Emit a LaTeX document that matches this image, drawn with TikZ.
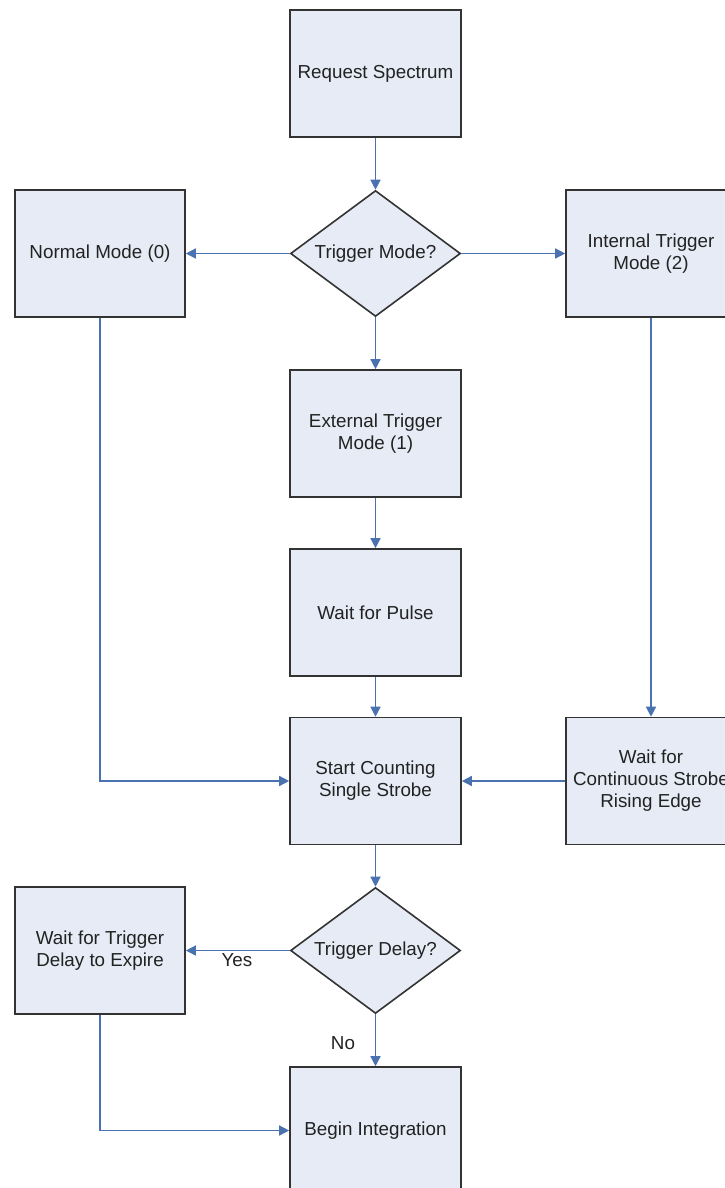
\documentclass[tikz,border=0pt]{standalone}
\usepackage{fontspec}
\setmainfont{Liberation Sans}
\usetikzlibrary{shapes.geometric,arrows.meta}
\definecolor{boxfill}{HTML}{E6EBF5}
\definecolor{boxline}{HTML}{333333}
\definecolor{arrowc}{HTML}{4A72B0}
\definecolor{txt}{HTML}{222222}
\begin{document}
\begin{tikzpicture}[x=1pt,y=-1pt,
  every node/.style={font=\fontsize{18.8pt}{22pt}\selectfont, text=txt},
  procbox/.style={draw=boxline, line width=1.6pt, fill=boxfill, minimum width=171pt, minimum height=127pt, inner sep=0pt, align=center},
  decision/.style={diamond, aspect=1.346, draw=boxline, line width=1.6pt, fill=boxfill, minimum width=170pt, minimum height=126pt, inner sep=0pt, align=center},
  conn/.style={draw=arrowc, line width=1.4pt, -{Triangle[width=10pt,length=10pt]}, color=arrowc},
  lbl/.style={inner sep=0pt}
]
\useasboundingbox (0,0) rectangle (725,1188);
\clip (0,0) rectangle (725,1188);
\node[procbox] (rs) at (375.5,73.5) {Request Spectrum};
\node[decision] (tm) at (375.5,253.5) {Trigger Mode?};
\node[procbox, minimum width=170pt] (nm) at (100,253.5) {Normal Mode (0)};
\node[procbox, minimum width=170pt] (it) at (651,253.5) {Internal Trigger\\Mode (2)};
\node[procbox] (et) at (375.5,433.5) {External Trigger\\Mode (1)};
\node[procbox] (wp) at (375.5,612.5) {Wait for Pulse};
\node[procbox] (sc) at (375.5,781) {Start Counting\\Single Strobe};
\node[procbox, minimum width=170pt] (wc) at (651,781) {Wait for\\Continuous Strobe\\Rising Edge};
\node[decision] (td) at (375.5,950.5) {Trigger Delay?};
\node[procbox, minimum width=170pt] (wt) at (100,950.5) {Wait for Trigger\\Delay to Expire};
\node[procbox] (bi) at (375.5,1130.5) {Begin Integration};

\draw[conn] (rs.south) -- (tm.north);
\draw[conn] (tm.west) -- (nm.east);
\draw[conn] (tm.east) -- (it.west);
\draw[conn] (tm.south) -- (et.north);
\draw[conn] (et.south) -- (wp.north);
\draw[conn] (wp.south) -- (sc.north);
\draw[conn] (nm.south) |- (sc.west);
\draw[conn] (it.south) -- (wc.north);
\draw[conn] (wc.west) -- (sc.east);
\draw[conn] (sc.south) -- (td.north);
\draw[conn] (td.west) -- (wt.east);
\draw[conn] (td.south) -- (bi.north);
\draw[conn] (wt.south) |- (bi.west);
\node[lbl] (yes) at (237,960) {Yes};
\node[lbl] (no) at (343,1043) {No};
\end{tikzpicture}
\end{document}
